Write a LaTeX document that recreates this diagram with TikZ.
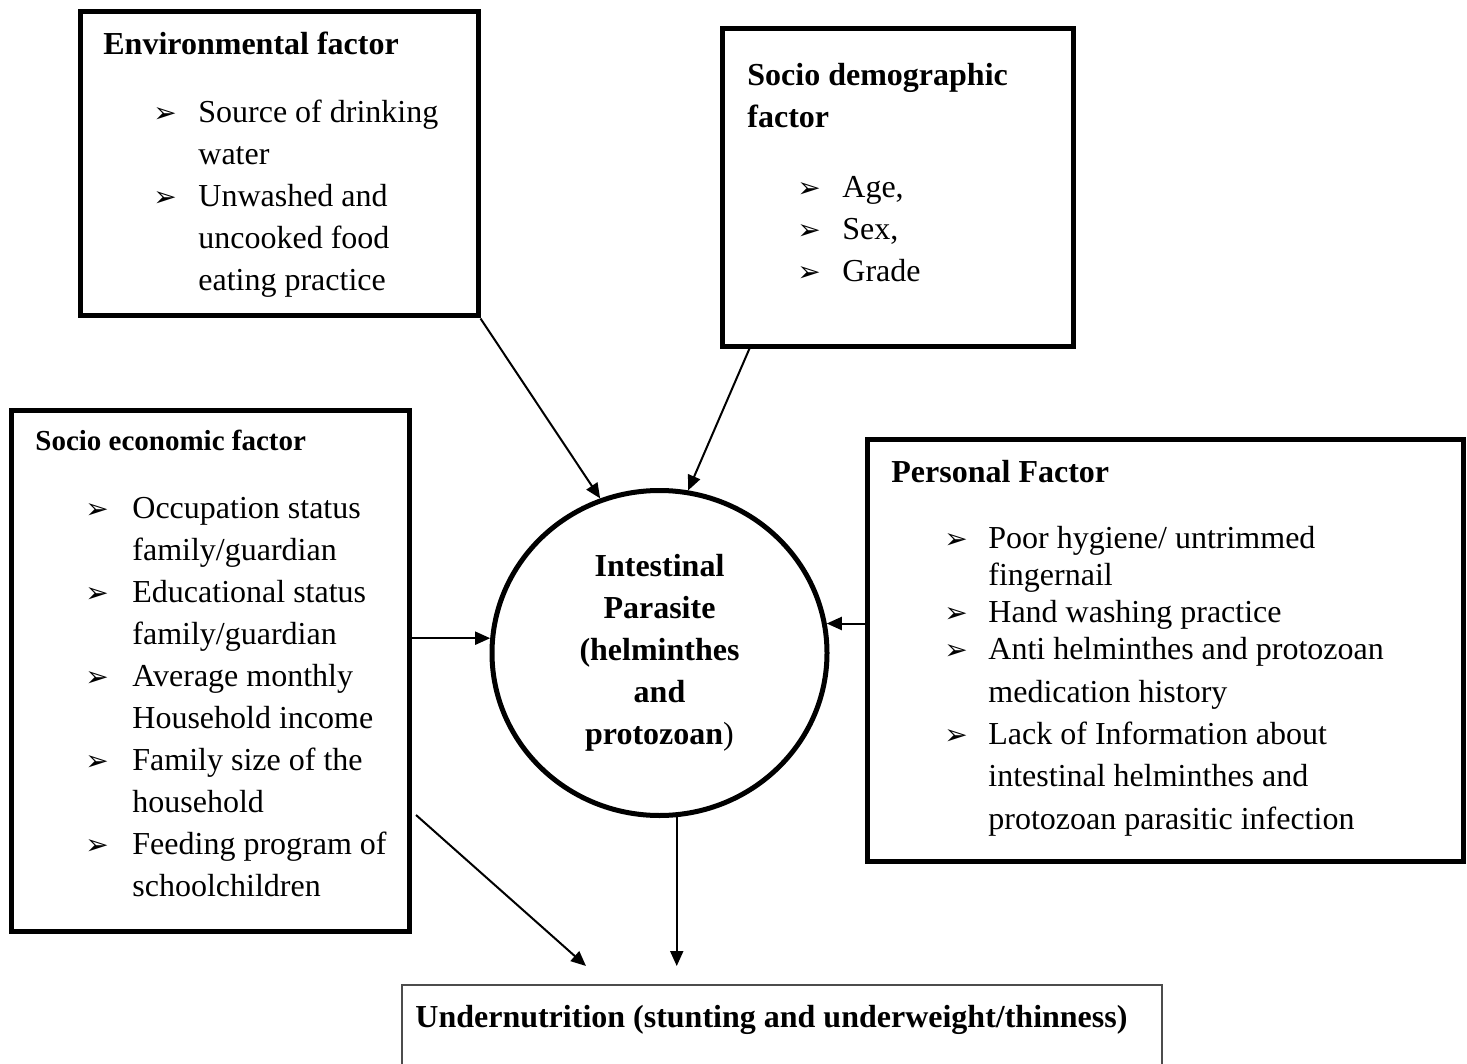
\documentclass[tikz,border=0pt]{standalone}
\usepackage{fontspec}
\setmainfont{Liberation Serif}
\newfontfamily\symfont{DejaVu Sans}
\usetikzlibrary{arrows.meta,shapes.geometric}

\newcommand{\bulsym}{{\symfont\fontsize{14}{14}\selectfont ➢}}
\newlength{\bulgap}
\newcommand{\bul}[1]{\par\noindent\hangindent=\bulgap\hangafter=1\makebox[\bulgap][l]{\bulsym}#1}
\newcommand{\block}[2]{\parbox[t]{#1}{#2}}

\begin{document}
\begin{tikzpicture}[x=0.5pt,y=-0.5pt,
	factor/.style={draw,line width=2.5pt,inner sep=0pt},
	conn/.style={-{Triangle[length=7.5pt,width=6.5pt]},line width=1pt},
	head/.style={anchor=base west,inner sep=0pt,font=\bfseries\fontsize{16}{21}\selectfont},
	items/.style={anchor=base west,inner sep=0pt,font=\fontsize{16}{21}\selectfont}]
	\clip (0,0) rectangle (1467,1064);
	% boxes
	\node[factor,minimum width=199pt,minimum height=152pt] (env) at (279,164) {};
	\node[factor,minimum width=175.5pt,minimum height=158.5pt] (demo) at (897.5,187.5) {};
	\node[factor,minimum width=199pt,minimum height=260.5pt] (econ) at (210,670.5) {};
	\node[factor,minimum width=298pt,minimum height=211pt] (pers) at (1165,650) {};
	\node[draw=black!70,line width=1pt,minimum width=380pt,minimum height=57.5pt] (under) at (782,1042.5) {};
	\node[draw,ellipse,line width=2.5pt,minimum width=167.5pt,minimum height=162.5pt,inner sep=0pt,
		align=center,font=\bfseries\fontsize{16}{21}\selectfont] (ip) at (659.5,653)
		{Intestinal\\Parasite\\(helminthes\\and\\protozoan{\mdseries)}};
	% texts
	\node[head] (envt) at (103,55) {Environmental factor};
	\setlength{\bulgap}{22.5pt}
	\node[items] (envl) at (153,123) {\block{150pt}{\bul{Source of drinking\\water}\bul{Unwashed and\\uncooked food\\eating practice}}};
	\node[head] (demot) at (747,86) {\block{160pt}{Socio demographic\\factor}};
	\node[items] (demol) at (797,198) {\block{120pt}{\bul{Age,}\bul{Sex,}\bul{Grade}}};
	\node[head,font=\bfseries\fontsize{14.5}{18}\selectfont] (econt) at (35,450) {Socio economic factor};
	\setlength{\bulgap}{23.5pt}
	\node[items] (econl) at (85,518) {\block{170pt}{\bul{Occupation status\\family/guardian}\bul{Educational status\\family/guardian}\bul{Average monthly\\Household income}\bul{Family size of the\\household}\bul{Feeding program of\\schoolchildren}}};
	\node[head] (perst) at (891,482) {Personal Factor};
	\setlength{\bulgap}{22pt}
	\node[items,font=\fontsize{16}{18.5}\selectfont] (persl) at (944,548) {\block{250pt}{\bul{Poor hygiene/ untrimmed\\fingernail}\bul{Hand washing practice}\bul{Anti helminthes and protozoan\\[3pt]medication history}\par\vspace{2.5pt}\bul{Lack of Information about\\[2.5pt]intestinal helminthes and\\[3pt]protozoan parasitic infection}}};
	\node[head] (undert) at (415,1027) {Undernutrition (stunting and underweight/thinness)};
	% connectors
	\coordinate (econout) at (416,815);
	\coordinate (tipb) at (586,966);
	\coordinate (tipa) at (677,966);
	\draw[conn] (env.south east) -- (ip.111);
	\draw[conn] ([xshift=15pt]demo.south west) -- (ip.80);
	\draw[conn] (econ.east |- ip.175) -- (ip.175);
	\draw[conn] (pers.west |- ip.10) -- (ip.10);
	\draw[conn] (ip.-84) -- (ip.-84 |- tipa);
	\draw[conn] (econout) -- (tipb);
\end{tikzpicture}
\end{document}
